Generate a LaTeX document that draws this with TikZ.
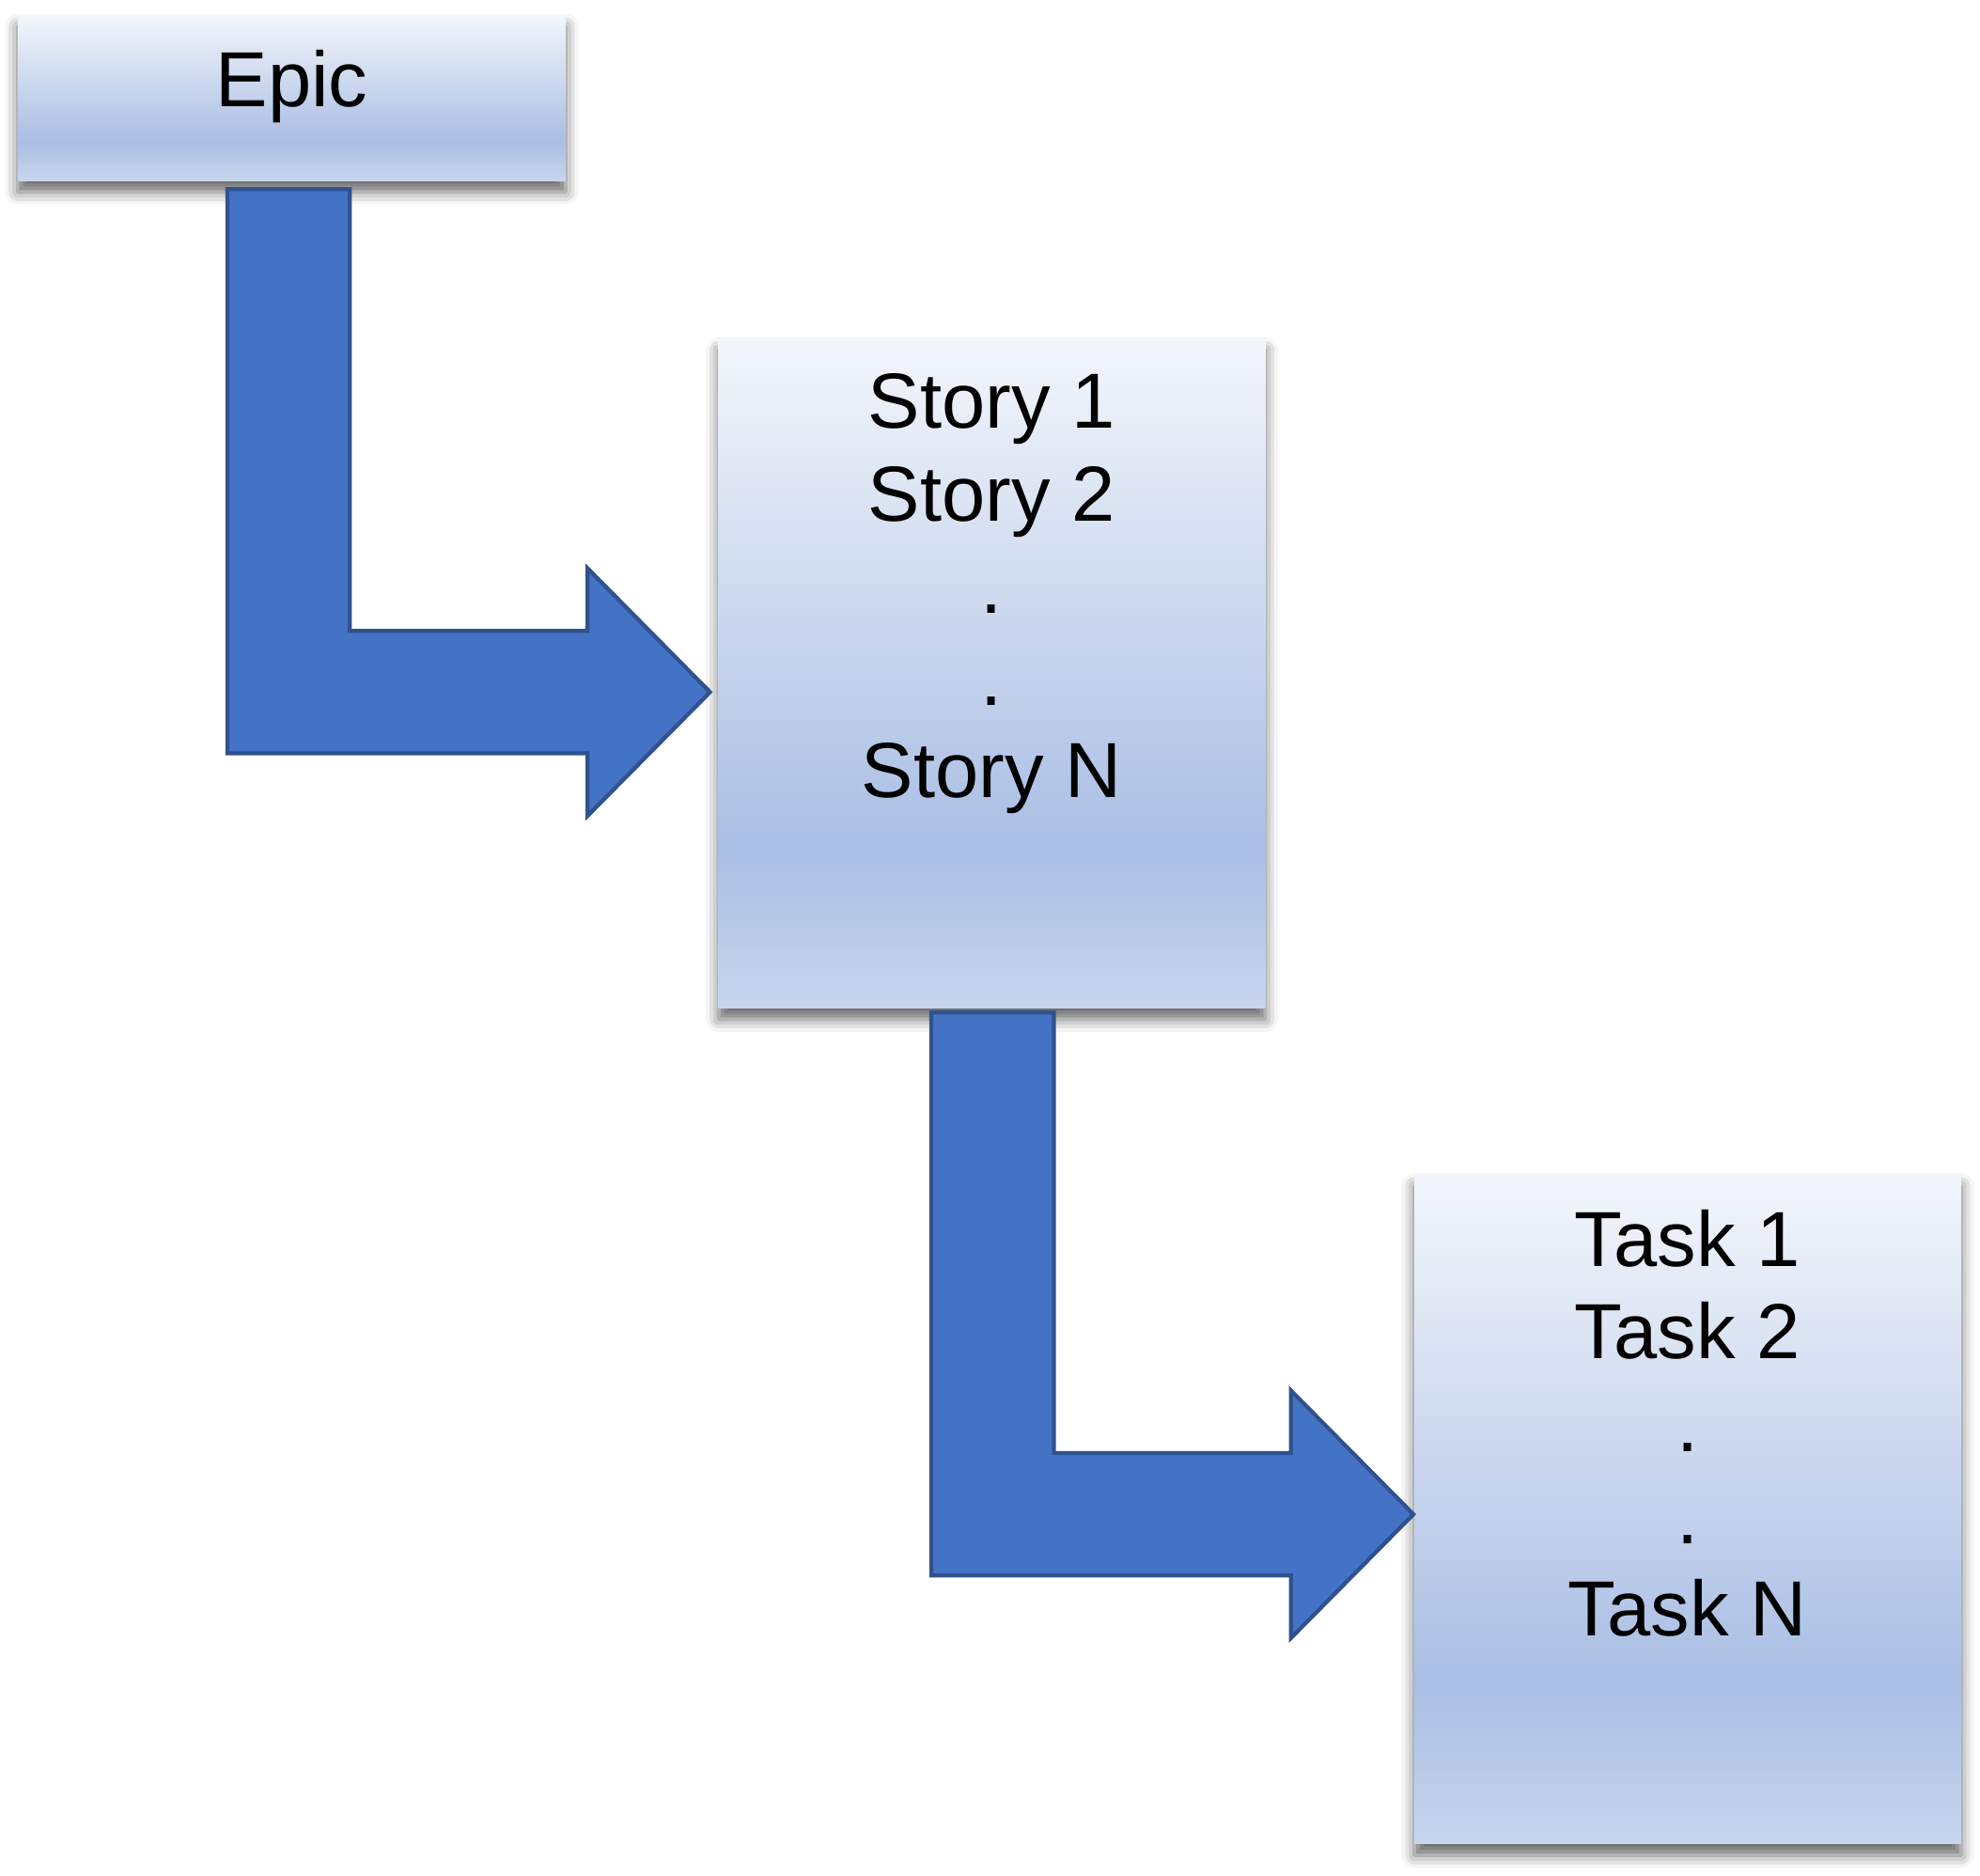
\documentclass[tikz,border=0pt]{standalone}
\usepackage{fontspec}
\setmainfont{Liberation Sans}
\usetikzlibrary{positioning, calc, shadows.blur}

\definecolor{boxtop}{RGB}{243,246,251}
\definecolor{boxmid}{RGB}{170,190,228}
\definecolor{boxbot}{RGB}{199,213,237}
\definecolor{arrfill}{RGB}{68,114,196}
\definecolor{arrline}{RGB}{47,82,143}
\pgfdeclareverticalshading{boxfade}{100bp}{color(0bp)=(boxbot); color(25bp)=(boxbot); color(37bp)=(boxmid); color(75bp)=(boxtop); color(100bp)=(boxtop)}

\newcommand{\arrhw}{0.485cm}
\newcommand{\arrhl}{0.97cm}
\newcommand{\arrhh}{0.98cm}

\begin{document}
\begin{tikzpicture}[
      card/.style={shading=boxfade, minimum width=4.33cm, minimum height=5.30cm, inner sep=0pt,
        blur shadow={shadow xshift=0pt, shadow yshift=-0.09cm, shadow blur radius=0.1cm, shadow opacity=60}},
      lbl/.style={font=\fontsize{17.6}{20.8}\selectfont, align=center, inner sep=0pt, anchor=north},
      bent/.style={fill=arrfill, draw=arrline, line width=0.9pt, line join=miter}]
    \useasboundingbox (0,0) rectangle (15.68,-14.85);
    \node[card, minimum width=4.34cm, minimum height=1.31cm] (epic) at (2.31,-0.775) {};
    \node[card] (story) at (7.855,-5.33) {};
    \node[card] (task) at (13.365,-11.95) {};
    \node[lbl] (epictxt) at ($(epic.north)+(0,-0.28)$) {Epic};
    \node[lbl] (storytxt) at ($(story.north)+(0,-0.28)$) {Story 1\\Story 2\\.\\.\\Story N};
    \node[lbl] (tasktxt) at ($(task.north)+(0,-0.28)$) {Task 1\\Task 2\\.\\.\\Task N};
    \draw[bent] let \p1=($(epic.south)+(-0.025,-0.06)$), \p2=($(story.west)+(-0.06,-0.15)$) in
      (\x1-\arrhw,\y1) -- (\x1-\arrhw,\y2-\arrhw) -- (\x2-\arrhl,\y2-\arrhw) -- (\x2-\arrhl,\y2-\arrhh)
      -- (\p2) -- (\x2-\arrhl,\y2+\arrhh) -- (\x2-\arrhl,\y2+\arrhw) -- (\x1+\arrhw,\y2+\arrhw) -- (\x1+\arrhw,\y1) -- cycle;
    \draw[bent] let \p1=($(story.south)+(0.005,-0.03)$), \p2=($(task.west)+(0,-0.04)$) in
      (\x1-\arrhw,\y1) -- (\x1-\arrhw,\y2-\arrhw) -- (\x2-\arrhl,\y2-\arrhw) -- (\x2-\arrhl,\y2-\arrhh)
      -- (\p2) -- (\x2-\arrhl,\y2+\arrhh) -- (\x2-\arrhl,\y2+\arrhw) -- (\x1+\arrhw,\y2+\arrhw) -- (\x1+\arrhw,\y1) -- cycle;
  \end{tikzpicture}
\end{document}
